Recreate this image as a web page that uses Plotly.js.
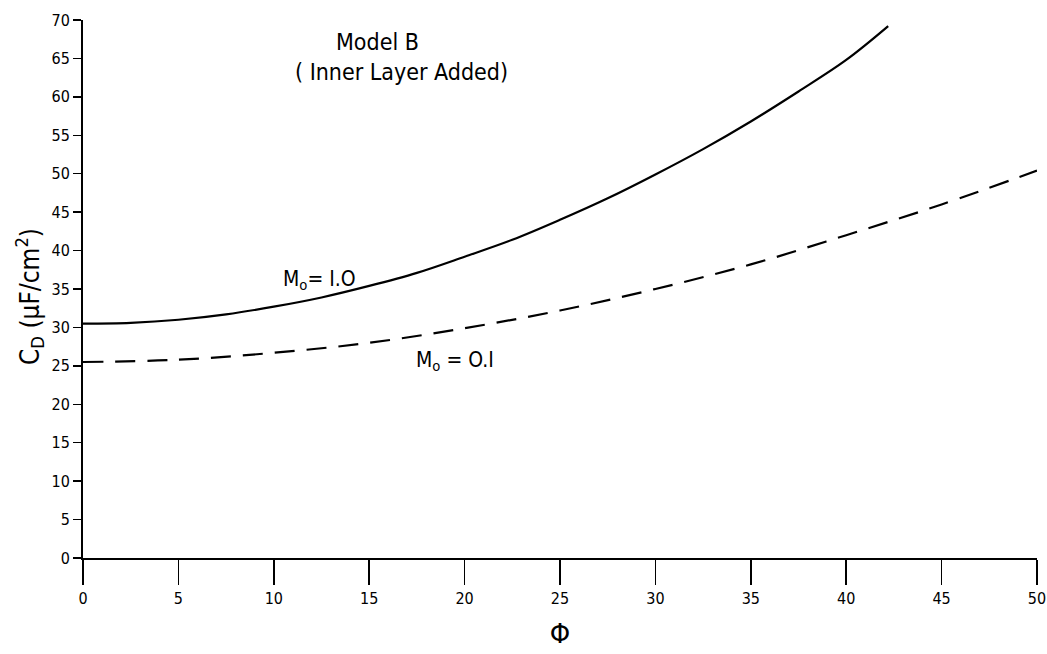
<!DOCTYPE html>
<html>
<head>
<meta charset="utf-8">
<script src="https://cdn.plot.ly/plotly-3.0.1.min.js"></script>
<style>html,body{margin:0;padding:0;background:#fff;}#chart{width:1047px;height:654px;}</style>
</head>
<body>
<div id="chart"></div>
<script>
// Model B (inner layer added): C_D vs Phi
const phiSolid = [0, 2.5, 5, 7.5, 10, 12.5, 15, 17.5, 20, 22.5, 25, 27.5, 30, 32.5, 35, 37.5, 40, 42.2];
const cdSolid  = [30.5, 30.6, 31.0, 31.7, 32.7, 33.9, 35.4, 37.1, 39.2, 41.4, 44.0, 46.8, 49.9, 53.2, 56.8, 60.7, 64.8, 69.2];
const phiDashed = [0, 5, 10, 15, 20, 25, 30, 35, 40, 45, 50];
const cdDashed  = [25.5, 25.8, 26.7, 28.0, 29.9, 32.2, 35.0, 38.2, 42.0, 46.0, 50.4];
const xTicks = [0, 5, 10, 15, 20, 25, 30, 35, 40, 45, 50];
const yTicks = [0, 5, 10, 15, 20, 25, 30, 35, 40, 45, 50, 55, 60, 65, 70];
const labelSolid = "M<sub>o</sub>= I.O";
const labelDashed = "M<sub>o</sub> = O.I";
const titleLines = ["Model B", "( Inner Layer Added)"];
const xTitle = "Φ";
const yTitle = "C<sub>D</sub> (μF/cm<sup>2</sup>)";

const FONT = "'DejaVu Sans Condensed', 'DejaVu Sans', 'Liberation Sans', sans-serif";

const L = 83, R = 10, T = 20, B = 96;
const W = 1047, H = 654;
const pw = W - L - R, ph = H - T - B;
const px = v => (v - L) / pw;          // pixel x -> paper
const py = v => (H - B - v) / ph;      // pixel y -> paper

const traces = [
  {x: phiSolid, y: cdSolid, mode: "lines", line: {color: "#000", width: 2.2, shape: "spline"}, hoverinfo: "skip"},
  {x: phiDashed, y: cdDashed, mode: "lines", line: {color: "#000", width: 2.2, dash: "20px,12px", shape: "spline"}, hoverinfo: "skip"}
];

const layout = {
  width: W, height: H,
  margin: {l: L, r: R, t: T, b: B},
  paper_bgcolor: "#fff", plot_bgcolor: "#fff",
  showlegend: false,
  font: {family: FONT, color: "#000", size: 16},
  xaxis: {
    range: [0, 50], tickvals: xTicks, ticktext: xTicks.map(String),
    showgrid: false, zeroline: false, showline: true, linecolor: "#000", linewidth: 2,
    ticks: "outside", ticklen: 25, tickwidth: 1.5, tickcolor: "#000",
    ticklabeloverflow: "allow",
    tickfont: {family: FONT, size: 16, color: "#000"},
    title: {text: xTitle, font: {family: "DejaVu Sans", size: 26, color: "#000"}, standoff: 18}
  },
  yaxis: {
    range: [0, 70], tickvals: yTicks, ticktext: yTicks.map(String),
    showgrid: false, zeroline: false, showline: true, linecolor: "#000", linewidth: 2,
    ticks: "outside", ticklen: 8, tickwidth: 1.5, tickcolor: "#000",
    tickfont: {family: FONT, size: 16, color: "#000"}
  },
  annotations: [
    {xref: "paper", yref: "paper", x: px(29), y: py(297), text: yTitle, textangle: -90, showarrow: false,
     font: {family: FONT, size: 26}, xanchor: "center", yanchor: "middle"},
    {xref: "paper", yref: "paper", x: px(377), y: py(42), text: titleLines[0], showarrow: false, font: {family: FONT, size: 23}, xanchor: "center", yanchor: "middle"},
    {xref: "paper", yref: "paper", x: px(401), y: py(72), text: titleLines[1], showarrow: false, font: {family: FONT, size: 23}, xanchor: "center", yanchor: "middle"},
    {x: 12.4, y: 36.2, text: labelSolid, showarrow: false, font: {family: FONT, size: 21}, xanchor: "center", yanchor: "middle"},
    {x: 19.5, y: 25.6, text: labelDashed, showarrow: false, font: {family: FONT, size: 21}, xanchor: "center", yanchor: "middle"}
  ]
};

Plotly.newPlot("chart", traces, layout, {displayModeBar: false, staticPlot: true});
</script>
</body>
</html>
